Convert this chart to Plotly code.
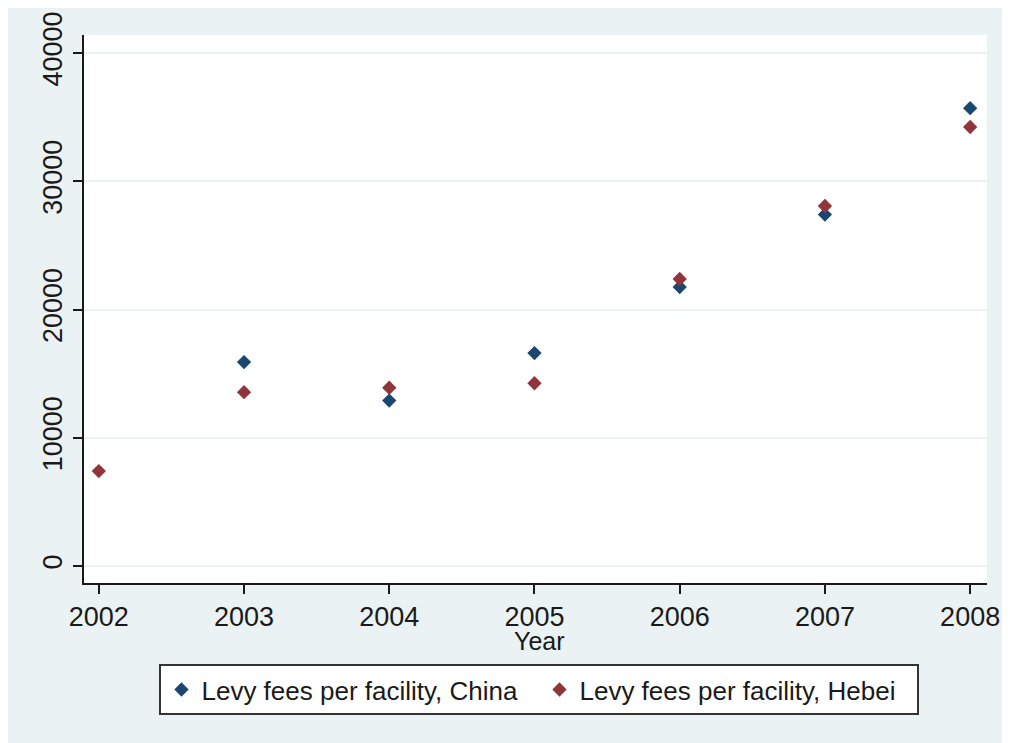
import plotly.graph_objects as go

years = [2002, 2003, 2004, 2005, 2006, 2007, 2008]
china = [None, 15900, 12900, 16600, 21750, 27400, 35700]
hebei = [7400, 13550, 13900, 14250, 22380, 28070, 34230]
y_ticks = [0, 10000, 20000, 30000, 40000]
y_ticktext = ["0", "10000", "20000", "30000", "40000"]
names = ["Levy fees per facility, China", "Levy fees per facility, Hebei"]
x_title = "Year"

NAVY = "#1A476F"
MAROON = "#90353B"
BG = "#EAF2F3"
FONT = "Arial, Liberation Sans, sans-serif"
INK = "#1a1a1a"

fig = go.Figure()
fig.add_trace(go.Scatter(x=years, y=china, mode="markers", name=names[0],
                         marker=dict(symbol="diamond", size=11, color=NAVY)))
fig.add_trace(go.Scatter(x=years, y=hebei, mode="markers", name=names[1],
                         marker=dict(symbol="diamond", size=11, color=MAROON)))

fig.update_layout(
    width=1002, height=735,
    margin=dict(l=76, r=23, t=27, b=160, autoexpand=False),
    paper_bgcolor=BG, plot_bgcolor="white",
    font=dict(family=FONT, size=26, color=INK),
    showlegend=True,
    legend=dict(orientation="h", x=0.5044, xanchor="center", y=-0.148, yanchor="top",
                bgcolor="white", bordercolor="#333", borderwidth=2,
                font=dict(size=26, color=INK), entrywidth=333, entrywidthmode="pixels"),
    xaxis=dict(range=[2001.898, 2008.116], tickmode="array", tickvals=years,
               showgrid=False, zeroline=False, showline=True, linecolor=INK, linewidth=2,
               ticks="outside", ticklen=9, tickwidth=2, tickcolor=INK,
               tickfont=dict(size=27, color=INK)),
    yaxis=dict(range=[-1326, 41404], tickmode="array", tickvals=y_ticks, ticktext=y_ticktext,
               tickangle=-90, showgrid=True, gridcolor=BG, gridwidth=2, zeroline=False,
               showline=True, linecolor=INK, linewidth=2,
               ticks="outside", ticklen=9, tickwidth=2, tickcolor=INK,
               tickfont=dict(size=27, color=INK)),
    annotations=[dict(text=x_title, xref="paper", yref="paper", x=0.5044, y=-0.106,
                      xanchor="center", yanchor="middle", showarrow=False,
                      font=dict(size=25, color=INK))],
)

fig.write_html("out.html")
